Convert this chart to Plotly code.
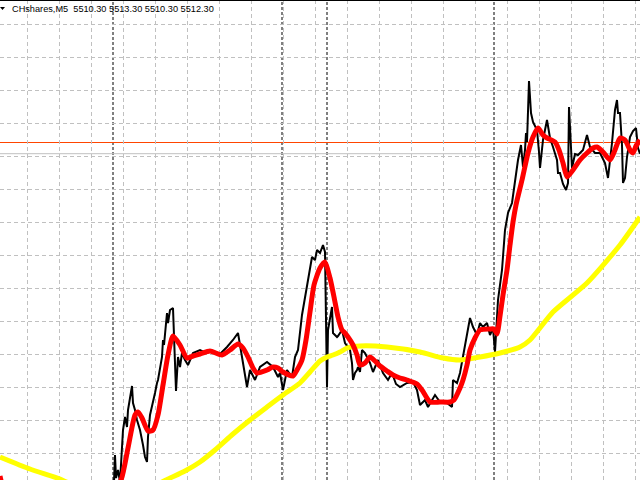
import plotly.graph_objects as go

# ---------------- data ----------------
title_text = "CHshares,M5  5510.30 5513.30 5510.30 5512.30"
separators = [113, 282, 327, 494]          # day separators (bar index)
level_price = 5523.5                       # horizontal level line
bid_price = 5512.3                         # last bid

price_x = [114, 115, 116, 118, 120, 122, 123, 125, 127, 128, 130, 132, 133, 135, 137, 140,
           143, 145, 147, 148, 150, 152, 155, 157, 158, 162, 163, 164, 167, 168, 170, 173,
           174, 176, 178, 180, 182, 185, 188, 190, 193, 200, 206, 213, 220, 227, 233, 238,
           242, 247, 250, 255, 260, 267, 273, 278, 280, 283, 287, 289, 292, 295, 298, 302,
           305, 308, 312, 315, 317, 320, 323, 325, 327, 328, 332, 333, 337, 338, 342, 345,
           348, 350, 352, 353, 355, 357, 358, 360, 362, 365, 370, 373, 378, 383, 388, 392,
           396, 400, 407, 413, 417, 420, 425, 428, 435, 440, 447, 452, 453, 457, 460, 463,
           467, 470, 473, 477, 480, 483, 487, 490, 493, 495, 498, 502, 505, 508, 512, 515,
           518, 521, 523, 525, 526, 527, 528, 529, 531, 533, 537, 538, 539, 540, 543, 547,
           550, 553, 557, 558, 560, 563, 566, 568, 569, 572, 575, 578, 583, 587, 590, 595,
           600, 605, 608, 612, 615, 617, 618, 620, 622, 623, 625, 627, 630, 633, 636, 638,
           640]
price_y = [5184, 5211, 5188, 5196, 5184, 5221, 5236, 5249, 5239, 5256, 5269, 5280, 5263, 5256, 5246, 5236,
           5221, 5209, 5204, 5229, 5251, 5259, 5273, 5283, 5286, 5309, 5326, 5321, 5353, 5343, 5356, 5358,
           5333, 5275, 5309, 5299, 5313, 5306, 5301, 5306, 5313, 5316, 5313, 5315, 5312, 5319, 5326, 5333,
           5309, 5279, 5296, 5286, 5299, 5304, 5299, 5289, 5293, 5276, 5296, 5293, 5289, 5309, 5316, 5351,
           5369, 5389, 5409, 5406, 5416, 5413, 5421, 5414, 5279, 5336, 5359, 5333, 5329, 5330, 5336, 5323,
           5318, 5316, 5303, 5286, 5293, 5296, 5299, 5294, 5316, 5313, 5303, 5294, 5306, 5293, 5286, 5293,
           5282, 5279, 5283, 5284, 5276, 5261, 5266, 5259, 5271, 5264, 5263, 5259, 5286, 5283, 5293, 5309,
           5329, 5348, 5339, 5331, 5343, 5339, 5343, 5331, 5338, 5314, 5366, 5396, 5436, 5453, 5463, 5486,
           5506, 5521, 5499, 5516, 5533, 5524, 5571, 5585, 5553, 5544, 5536, 5526, 5514, 5498, 5526, 5546,
           5528, 5519, 5506, 5493, 5493, 5482, 5476, 5483, 5559, 5498, 5512, 5511, 5516, 5531, 5519, 5513,
           5513, 5503, 5488, 5523, 5556, 5566, 5553, 5553, 5521, 5483, 5488, 5509, 5529, 5535, 5538, 5518,
           5512.3]

fast_x = [0, 4, 40, 80, 110, 121, 128, 135, 138, 142, 148, 153, 158, 163, 168, 173, 180, 187, 193,
          200, 210, 222, 230, 238, 243, 248, 253, 257, 267, 273, 278, 283, 293, 297, 302, 306, 310,
          314, 320, 325, 330, 334, 338, 342, 344, 348, 353, 357, 360, 365, 370, 375, 380, 387, 393,
          400, 407, 417, 422, 430, 440, 450, 454, 460, 463, 467, 470, 475, 480, 490, 494, 497, 500,
          503, 507, 510, 513, 516, 522, 528, 533, 538, 543, 547, 555, 559, 563, 567, 573, 580, 587,
          593, 597, 603, 610, 615, 620, 625, 630, 633, 636, 640]
fast_y = [5190, 5178, 5161, 5161, 5171, 5186, 5218, 5251, 5254, 5248, 5235, 5236, 5251, 5281, 5311, 5330,
          5321, 5308, 5310, 5312, 5315, 5311, 5316, 5322, 5318, 5309, 5298, 5293, 5296, 5299, 5298, 5294,
          5290, 5296, 5306, 5326, 5354, 5381, 5398, 5404, 5388, 5369, 5349, 5336, 5334, 5329, 5321, 5311,
          5301, 5303, 5309, 5305, 5300, 5295, 5291, 5288, 5286, 5282, 5276, 5264, 5264, 5264, 5266, 5278,
          5286, 5301, 5316, 5328, 5336, 5337, 5337, 5332, 5350, 5371, 5396, 5421, 5444, 5461, 5486, 5513,
          5529, 5538, 5531, 5528, 5524, 5516, 5503, 5489, 5496, 5506, 5513, 5518, 5519, 5514, 5506, 5516,
          5528, 5526, 5516, 5513, 5520, 5526]

slow_x = [0, 30, 60, 75, 100, 130, 150, 168, 185, 200, 215, 233, 250, 267, 283, 300, 310, 320, 327,
          333, 340, 347, 360, 387, 420, 443, 460, 480, 500, 520, 530, 553, 587, 620, 640]
slow_y = [5209, 5197, 5187, 5180, 5172, 5172, 5178, 5187, 5195, 5204, 5216, 5232, 5246, 5259, 5271,
          5283, 5294, 5305, 5309, 5311, 5314, 5318, 5320, 5319, 5314, 5308, 5306, 5309, 5313, 5319,
          5326, 5354, 5383, 5421, 5449]

# ---------------- figure ----------------
W, H = 640, 480
X_RANGE = [0, 640]
Y_RANGE = [5186, 5666]

fig = go.Figure()
fig.add_trace(go.Scatter(x=price_x, y=price_y, mode="lines",
                         line=dict(color="#000000", width=2), hoverinfo="skip"))
fig.add_trace(go.Scatter(x=slow_x, y=slow_y, mode="lines",
                         line=dict(color="#FFFF00", width=5, shape="spline", smoothing=0.6),
                         hoverinfo="skip"))
fig.add_trace(go.Scatter(x=fast_x, y=fast_y, mode="lines",
                         line=dict(color="#FF0000", width=5, shape="spline", smoothing=0.6),
                         hoverinfo="skip"))

shapes = []
for s in separators:
    shapes.append(dict(type="line", xref="x", yref="paper", x0=s, x1=s, y0=0, y1=1,
                       line=dict(color="#000000", width=1, dash="3px,2px"), layer="between"))
shapes.append(dict(type="line", xref="paper", yref="y", x0=0, x1=1, y0=bid_price, y1=bid_price,
                   line=dict(color="#C0C0C0", width=1), layer="between"))
shapes.append(dict(type="line", xref="paper", yref="y", x0=0, x1=1, y0=level_price, y1=level_price,
                   line=dict(color="#FF4500", width=1.2), layer="between"))
shapes.append(dict(type="line", xref="paper", yref="paper", x0=0, x1=1, y0=1, y1=1,
                   line=dict(color="#000000", width=2), layer="above"))


def px(x):
    return x / W


def py(y):
    return 1 - y / H


shapes.append(dict(type="path", xref="paper", yref="paper",
                   path=f"M {px(0)},{py(7)} L {px(5)},{py(7)} L {px(2.5)},{py(10)} Z",
                   fillcolor="#000000", line=dict(color="#000000", width=0), layer="above"))

fig.update_layout(
    width=W, height=H,
    margin=dict(l=0, r=0, t=0, b=0),
    paper_bgcolor="white", plot_bgcolor="white",
    showlegend=False,
    shapes=shapes,
    annotations=[dict(text=title_text, xref="paper", yref="paper", x=px(10), y=py(2),
                      xanchor="left", yanchor="top", showarrow=False,
                      font=dict(family="Liberation Sans, Arial, sans-serif", size=9.2, color="#000000"))],
)
fig.update_xaxes(range=X_RANGE, showticklabels=False, ticks="", zeroline=False, showline=False,
                 showgrid=True, gridcolor="#C0C0C0", gridwidth=1, griddash="4px,3px",
                 tick0=27, dtick=32, fixedrange=True)
fig.update_yaxes(range=Y_RANGE, showticklabels=False, ticks="", zeroline=False, showline=False,
                 showgrid=True, gridcolor="#C0C0C0", gridwidth=1, griddash="4px,3px",
                 tick0=5510, dtick=33, fixedrange=True)

fig.write_html("out.html", config={"displayModeBar": False},
               post_script="document.body.style.margin='0';document.body.style.overflow='hidden';")
